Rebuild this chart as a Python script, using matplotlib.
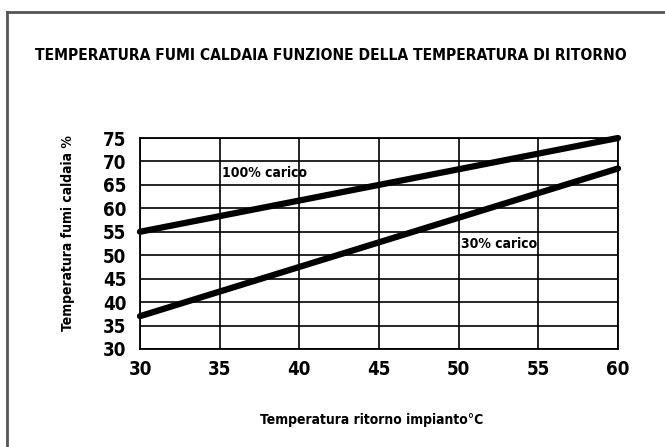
import matplotlib.pyplot as plt
from matplotlib.lines import Line2D

plt.rcParams['font.family'] = ['DejaVu Sans']
plt.rcParams['font.stretch'] = 'condensed'
plt.rcParams['font.weight'] = 'bold'

# dati
temp_ritorno = [30, 60]
fumi_100 = [55, 75]
fumi_30 = [37, 68.5]
x_ticks = [30, 35, 40, 45, 50, 55, 60]
y_ticks = [30, 35, 40, 45, 50, 55, 60, 65, 70, 75]

fig = plt.figure(figsize=(6.65, 4.47), dpi=100)
ax = fig.add_axes([140/665, 1 - 349/447, 478/665, 211/447])

ax.plot(temp_ritorno, fumi_100, color='black', lw=4.5, solid_capstyle='round', clip_on=False)
ax.plot(temp_ritorno, fumi_30, color='black', lw=4.5, solid_capstyle='round', clip_on=False)

ax.set_xlim(30, 60)
ax.set_ylim(30, 75)
ax.set_xticks(x_ticks)
ax.set_yticks(y_ticks)
ax.grid(True, color='black', lw=1.2)
ax.tick_params(length=0, labelsize=13.5)
ax.tick_params(axis='x', pad=8)
ax.tick_params(axis='y', pad=10)
for s in ax.spines.values():
    s.set_linewidth(1.3)

ax.text(35.15, 67.5, '100% carico', fontsize=10, ha='left', va='center')
ax.text(50.15, 52.4, '30% carico', fontsize=10, ha='left', va='center')

fig.text(372/665, 1 - 420/447, 'Temperatura ritorno impianto°C', fontsize=10,
         fontweight='bold', ha='center', va='center')
fig.text(68/665, 1 - 233/447, 'Temperatura fumi caldaia %', fontsize=10,
         fontweight='bold', ha='center', va='center', rotation=90)

fig.text(35/665, 1 - 55/447, 'TEMPERATURA FUMI CALDAIA FUNZIONE DELLA TEMPERATURA DI RITORNO',
         fontsize=11.2, ha='left', va='center')

# cornice esterna
fig.add_artist(Line2D([7/665, 7/665], [0, 1 - 12/447], transform=fig.transFigure, color='#555555', lw=2))
fig.add_artist(Line2D([7/665, 1], [1 - 12/447, 1 - 12/447], transform=fig.transFigure, color='#555555', lw=2))

fig.savefig('out.png', dpi=100)
